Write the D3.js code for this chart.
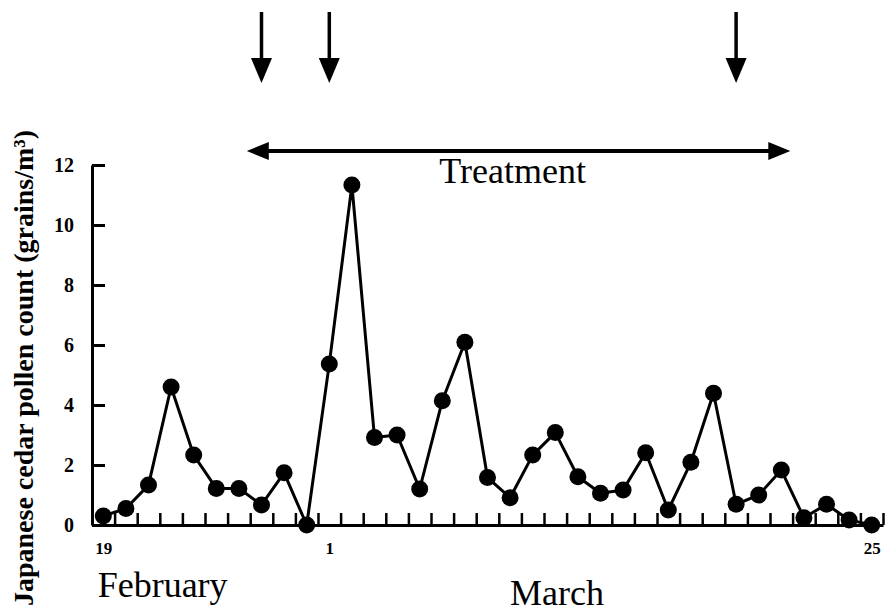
<!DOCTYPE html>
<html>
<head>
<meta charset="utf-8">
<script src="https://cdn.jsdelivr.net/npm/d3@7"></script>
<style>
  html, body { margin: 0; padding: 0; background: #fff; }
  svg { display: block; }
</style>
</head>
<body>
<svg id="chart" width="885" height="614"></svg>
<script>
// ---- data ----
const febDays = [19, 20, 21, 22, 23, 24, 25, 26, 27, 28];
const marDays = [1, 2, 3, 4, 5, 6, 7, 8, 9, 10, 11, 12, 13, 14, 15, 16, 17, 18, 19, 20, 21, 22, 23, 24, 25];
const febPollen = [0.3, 0.55, 1.33, 4.6, 2.33, 1.22, 1.22, 0.67, 1.74, 0.0];
const marPollen = [5.37, 11.33, 2.92, 3.0, 1.2, 4.14, 6.09, 1.58, 0.91, 2.33, 3.08, 1.61, 1.06, 1.17, 2.41, 0.5, 2.09, 4.39, 0.69, 1.0, 1.83, 0.24, 0.69, 0.17, 0.0];
const yTicks = [0, 2, 4, 6, 8, 10, 12];
const xLabelDays = [{ month: "Feb", day: 19 }, { month: "Mar", day: 1 }, { month: "Mar", day: 25 }];
const monthLabels = ["February", "March"];
const treatmentLabel = "Treatment";
const yTitle = "Japanese cedar pollen count (grains/m³)";
// arrows (dosing days) and treatment span
const doseDays = [{ month: "Feb", day: 26 }, { month: "Mar", day: 1 }, { month: "Mar", day: 19 }];

// ---- build series ----
const series = [];
febDays.forEach((d, i) => series.push({ month: "Feb", day: d, value: febPollen[i] }));
marDays.forEach((d, i) => series.push({ month: "Mar", day: d, value: marPollen[i] }));
series.forEach((d, i) => d.idx = i);
const idxOf = (m, d) => series.findIndex(s => s.month === m && s.day === d);

const svg = d3.select("#chart");
const font = "'Liberation Serif', 'Times New Roman', Times, serif";

const x = d3.scaleLinear().domain([0, series.length]).range([92, 883]);
const y = d3.scaleLinear().domain([0, 12]).range([525, 165]);
const cx = i => x(i + 0.5);

function styleText(sel, size, weight) {
  sel.style("font-family", font).style("font-weight", weight).style("font-size", size + "px").style("fill", "#000");
}

// ---- axes ----
const yAxis = d3.axisLeft(y).tickValues(yTicks).tickSizeInner(-13).tickSizeOuter(0).tickPadding(18);
const gy = svg.append("g").attr("transform", `translate(${x(0)},0)`).call(yAxis)
  .attr("font-family", null).attr("font-size", null);
gy.select(".domain").attr("stroke", "#000").attr("stroke-width", 3);
gy.selectAll(".tick line").attr("stroke", "#000").attr("stroke-width", 3);
styleText(gy.selectAll(".tick text"), 20, "bold");

const xTickAxis = d3.axisBottom(x).tickValues(d3.range(1, series.length + 1))
  .tickSizeInner(-12).tickSizeOuter(0).tickFormat("");
const gx = svg.append("g").attr("transform", `translate(0,${y(0)})`).call(xTickAxis);
gx.select(".domain").attr("stroke", "#000").attr("stroke-width", 3);
gx.selectAll(".tick line").attr("stroke", "#000").attr("stroke-width", 2.5);

const labelIdx = xLabelDays.map(o => idxOf(o.month, o.day));
const xLabelAxis = d3.axisBottom(x)
  .tickValues(labelIdx.map(i => i + 0.5))
  .tickSize(0).tickPadding(17)
  .tickFormat((v, k) => xLabelDays[k].day);
const gxl = svg.append("g").attr("transform", `translate(0,${y(0)})`).call(xLabelAxis)
  .attr("font-family", null).attr("font-size", null);
gxl.select(".domain").remove();
styleText(gxl.selectAll(".tick text"), 17, "bold");

// month labels
styleText(svg.append("text").attr("x", x(0.25)).attr("y", 597).text(monthLabels[0]), 36, "normal");
styleText(svg.append("text").attr("x", x(18.5)).attr("y", 605).text(monthLabels[1]), 36, "normal");

// y title
styleText(svg.append("text")
  .attr("transform", `translate(33,368) rotate(-90)`)
  .attr("text-anchor", "middle")
  .text(yTitle), 28, "bold");

// ---- line + markers ----
const line = d3.line().x(d => cx(d.idx)).y(d => y(d.value));
svg.append("path").datum(series).attr("d", line)
  .attr("fill", "none").attr("stroke", "#000").attr("stroke-width", 3).attr("stroke-linejoin", "round");
svg.append("g").selectAll("circle").data(series).join("circle")
  .attr("cx", d => cx(d.idx)).attr("cy", d => y(d.value)).attr("r", 8.5).attr("fill", "#000");

// ---- dose arrows ----
doseDays.forEach(o => {
  const xi = cx(idxOf(o.month, o.day));
  svg.append("line").attr("x1", xi).attr("x2", xi).attr("y1", 12).attr("y2", 64)
    .attr("stroke", "#000").attr("stroke-width", 3.5);
  svg.append("path")
    .attr("d", `M${xi - 10.5},58 L${xi + 10.5},58 L${xi},83 Z`).attr("fill", "#000");
});

// ---- treatment double arrow ----
const tx0 = x(6.85), tx1 = x(30.9), ty = 151;
svg.append("line").attr("x1", tx0 + 15).attr("x2", tx1 - 15).attr("y1", ty).attr("y2", ty)
  .attr("stroke", "#000").attr("stroke-width", 4);
svg.append("path").attr("d", `M${tx0},${ty} L${tx0 + 22},${ty - 9} L${tx0 + 22},${ty + 9} Z`).attr("fill", "#000");
svg.append("path").attr("d", `M${tx1},${ty} L${tx1 - 22},${ty - 9} L${tx1 - 22},${ty + 9} Z`).attr("fill", "#000");
styleText(svg.append("text").attr("x", (tx0 + tx1) / 2 - 6).attr("y", 183).attr("text-anchor", "middle")
  .text(treatmentLabel), 36, "normal");
</script>
</body>
</html>
